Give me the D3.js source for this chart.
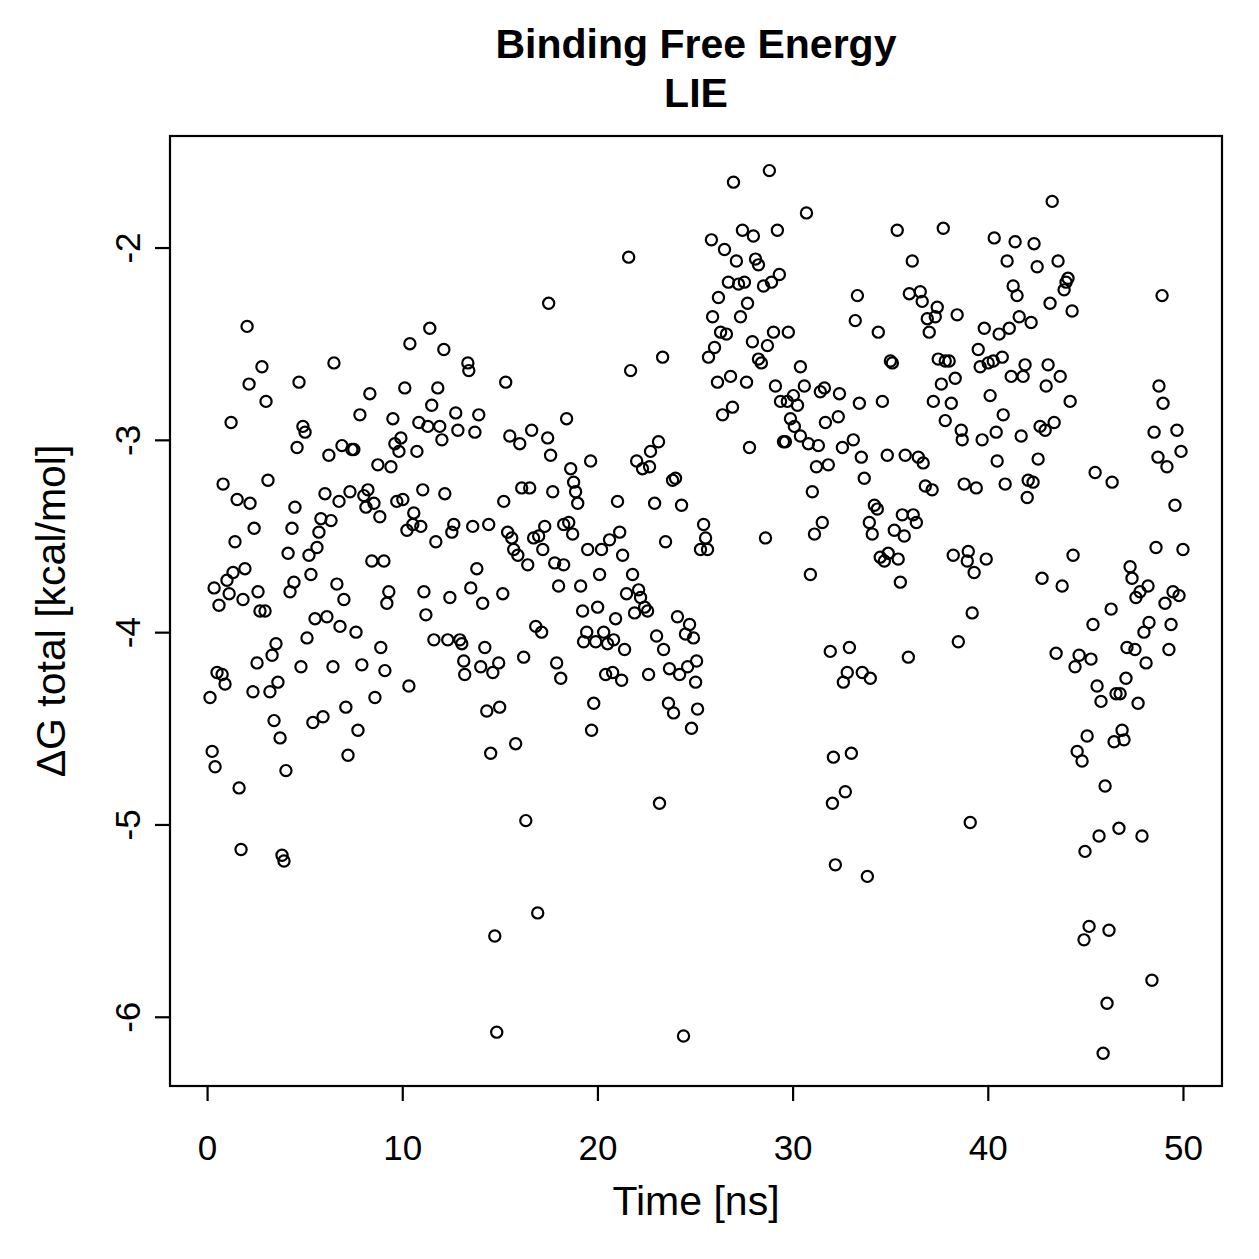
<!DOCTYPE html>
<html>
<head>
<meta charset="utf-8">
<script src="https://cdn.jsdelivr.net/npm/d3@7"></script>
<style>
  body { margin: 0; background: #fff; }
  svg text { font-family: 'Liberation Sans', Arial, Helvetica, sans-serif; fill: #000; }
</style>
</head>
<body>
<svg id="chart" width="1259" height="1259"></svg>
<script>
'use strict';

var mainTitle = ['Binding Free Energy', 'LIE'];
var xLabel = 'Time [ns]';
var yLabel = '\u0394G total [kcal/mol]';
var xTicks = [0, 10, 20, 30, 40, 50];
var yTicks = [-2, -3, -4, -5, -6];
var xLimits = [-1.9, 52.0];
var yLimits = [-6.36, -1.42];

// [time ns, dG kcal/mol]
var pts0to12 = [
  [2.05,-2.41],[11.41,-2.42],[10.39,-2.50],[12.13,-2.53],[2.81,-2.62],[6.50,-2.60],[2.15,-2.71],[4.71,-2.70],[3.02,-2.80],[8.34,-2.76],
  [10.13,-2.73],[11.82,-2.73],[11.51,-2.82],[7.83,-2.87],[9.52,-2.89],[10.85,-2.91],[11.31,-2.93],[11.92,-2.93],[12.03,-3.00],[12.74,-2.86],
  [1.23,-2.91],[4.91,-2.93],[5.02,-2.96],[4.61,-3.04],[6.91,-3.03],[7.42,-3.05],[7.52,-3.05],[9.62,-3.02],[9.93,-2.99],[9.83,-3.06],
  [10.75,-3.06],[6.24,-3.08],[8.75,-3.13],[9.42,-3.14],[0.82,-3.23],[3.12,-3.21],[1.54,-3.31],[2.20,-3.33],[4.50,-3.35],[6.04,-3.28],
  [6.76,-3.32],[7.32,-3.27],[8.24,-3.26],[8.03,-3.29],[8.55,-3.33],[8.14,-3.35],[8.85,-3.40],[9.72,-3.32],[10.03,-3.31],[11.05,-3.26],
  [12.18,-3.28],[10.59,-3.38],[10.54,-3.44],[10.95,-3.45],[10.24,-3.47],[11.72,-3.53],[5.83,-3.41],[6.35,-3.42],[5.73,-3.48],[4.35,-3.46],
  [2.41,-3.46],[1.43,-3.53],[5.63,-3.56],[4.15,-3.59],[5.22,-3.60],[8.44,-3.63],[9.06,-3.63],[1.94,-3.67],[1.33,-3.69],[1.02,-3.73],
  [5.32,-3.70],[0.36,-3.77],[1.13,-3.80],[1.84,-3.83],[0.61,-3.86],[2.61,-3.79],[4.45,-3.74],[4.25,-3.79],[6.65,-3.75],[7.01,-3.83],
  [9.31,-3.79],[9.21,-3.85],[11.11,-3.79],[11.21,-3.91],[2.71,-3.89],[2.97,-3.89],[5.53,-3.93],[6.14,-3.92],[6.81,-3.97],[7.63,-4.00],
  [5.12,-4.03],[3.53,-4.06],[3.33,-4.12],[2.56,-4.16],[8.90,-4.08],[11.62,-4.04],[4.81,-4.18],[6.45,-4.18],[7.93,-4.17],[9.11,-4.20],
  [0.51,-4.21],[0.77,-4.22],[0.92,-4.27],[3.63,-4.26],[3.22,-4.31],[2.35,-4.31],[0.15,-4.34],[10.34,-4.28],[8.60,-4.34],[7.11,-4.39],
  [3.43,-4.46],[5.42,-4.47],[5.94,-4.44],[7.73,-4.51],[3.74,-4.55],[0.26,-4.62],[7.22,-4.64],[0.41,-4.70],[4.04,-4.72],[1.64,-4.81],
  [1.74,-5.13],[3.84,-5.16],[3.94,-5.19]
];

var pts12to25 = [
  [21.60,-2.05],[17.50,-2.29],[23.34,-2.57],[21.70,-2.64],[13.36,-2.60],[13.41,-2.64],[15.30,-2.70],[13.92,-2.87],[12.85,-2.95],[13.72,-2.96],
  [15.51,-2.98],[16.02,-3.02],[16.63,-2.95],[17.45,-2.99],[18.42,-2.89],[17.60,-3.08],[19.65,-3.11],[22.01,-3.11],[22.72,-3.06],[23.13,-3.01],
  [22.31,-3.15],[22.67,-3.14],[23.85,-3.21],[24.00,-3.20],[18.63,-3.15],[18.78,-3.22],[18.88,-3.27],[18.99,-3.33],[15.20,-3.32],[16.12,-3.25],
  [16.53,-3.25],[17.71,-3.27],[21.03,-3.32],[22.93,-3.33],[24.31,-3.34],[12.64,-3.44],[12.54,-3.48],[13.61,-3.45],[14.43,-3.44],[15.40,-3.48],
  [15.61,-3.51],[15.71,-3.57],[15.92,-3.60],[16.43,-3.65],[16.73,-3.51],[16.99,-3.50],[17.30,-3.45],[17.20,-3.57],[18.27,-3.44],[18.53,-3.43],
  [18.73,-3.49],[17.81,-3.64],[18.27,-3.65],[19.50,-3.57],[20.21,-3.57],[20.62,-3.52],[21.14,-3.48],[21.29,-3.60],[21.80,-3.70],[20.11,-3.70],
  [23.49,-3.53],[13.82,-3.67],[12.44,-3.82],[13.51,-3.77],[14.12,-3.85],[15.15,-3.80],[18.01,-3.76],[19.14,-3.76],[19.24,-3.89],[20.01,-3.87],
  [20.93,-3.93],[21.49,-3.80],[22.11,-3.78],[22.21,-3.82],[22.42,-3.87],[22.57,-3.89],[21.90,-3.90],[24.10,-3.92],[24.72,-3.96],[24.51,-4.01],
  [24.92,-4.03],[23.03,-4.02],[23.39,-4.09],[16.84,-3.97],[17.14,-4.00],[12.33,-4.04],[12.95,-4.04],[13.05,-4.06],[14.23,-4.08],[13.15,-4.15],
  [13.20,-4.22],[14.02,-4.18],[14.94,-4.16],[14.64,-4.21],[16.22,-4.13],[17.91,-4.16],[18.12,-4.24],[19.45,-4.00],[19.29,-4.05],[19.91,-4.05],
  [20.32,-4.00],[20.52,-4.06],[20.83,-4.04],[21.39,-4.09],[20.42,-4.22],[20.78,-4.21],[21.24,-4.25],[22.62,-4.22],[23.69,-4.19],[24.21,-4.22],
  [24.62,-4.18],[25.08,-4.15],[25.03,-4.26],[14.33,-4.41],[14.99,-4.39],[19.81,-4.37],[23.64,-4.37],[23.90,-4.42],[25.13,-4.40],[24.82,-4.50],
  [19.70,-4.51],[15.81,-4.58],[14.53,-4.63],[23.18,-4.89],[16.33,-4.98],[16.94,-5.46],[14.74,-5.58],[14.84,-6.08],[24.41,-6.10]
];

var pts25to38 = [
  [26.97,-1.66],[28.81,-1.60],[30.71,-1.82],[27.43,-1.91],[27.99,-1.94],[29.22,-1.91],[25.84,-1.96],[26.51,-2.01],[27.12,-2.07],[28.10,-2.06],
  [28.25,-2.09],[26.71,-2.18],[27.23,-2.19],[27.53,-2.18],[28.51,-2.20],[28.92,-2.18],[29.32,-2.14],[26.20,-2.26],[27.69,-2.29],[25.90,-2.36],
  [27.33,-2.36],[26.31,-2.44],[26.61,-2.45],[27.94,-2.49],[28.71,-2.51],[29.02,-2.44],[29.78,-2.44],[26.00,-2.52],[25.69,-2.57],[28.25,-2.58],
  [28.40,-2.60],[30.40,-2.62],[26.82,-2.67],[26.15,-2.70],[27.64,-2.70],[29.12,-2.72],[30.60,-2.72],[31.42,-2.75],[31.63,-2.73],[29.38,-2.80],
  [29.73,-2.80],[30.04,-2.77],[30.25,-2.82],[32.40,-2.76],[33.42,-2.81],[34.60,-2.80],[26.92,-2.83],[29.89,-2.89],[30.09,-2.93],[32.34,-2.88],
  [31.68,-2.91],[26.41,-2.87],[27.79,-3.04],[29.53,-3.01],[29.63,-3.01],[30.40,-2.98],[30.81,-3.02],[31.32,-3.03],[32.55,-3.04],[33.11,-3.00],
  [33.52,-3.09],[34.85,-3.08],[35.77,-3.08],[36.44,-3.09],[35.36,-1.91],[37.72,-1.90],[36.13,-2.07],[33.32,-2.25],[33.21,-2.38],[34.39,-2.44],
  [35.98,-2.24],[36.54,-2.23],[36.64,-2.28],[37.41,-2.31],[37.31,-2.36],[36.90,-2.37],[37.00,-2.44],[35.01,-2.59],[35.11,-2.60],[37.46,-2.58],
  [37.82,-2.59],[38.02,-2.59],[37.62,-2.71],[37.21,-2.80],[37.82,-2.90],[36.69,-3.12],[31.22,-3.14],[31.83,-3.13],[33.67,-3.20],[31.01,-3.27],
  [36.80,-3.24],[37.15,-3.26],[34.19,-3.34],[34.34,-3.36],[33.93,-3.43],[34.08,-3.49],[35.62,-3.39],[36.18,-3.39],[36.34,-3.43],[35.21,-3.47],
  [35.72,-3.50],[31.52,-3.43],[31.12,-3.49],[34.49,-3.61],[34.90,-3.59],[34.70,-3.63],[35.41,-3.62],[35.52,-3.74],[30.91,-3.70],[25.44,-3.44],
  [25.54,-3.51],[25.28,-3.57],[25.64,-3.57],[28.61,-3.51],[31.93,-4.10],[32.91,-4.08],[35.93,-4.13],[32.80,-4.21],[32.60,-4.26],[33.57,-4.21],
  [33.98,-4.24],[32.09,-4.65],[33.01,-4.63],[32.70,-4.83],[32.04,-4.89],[32.19,-5.21],[33.83,-5.27]
];

var pts38to50 = [
  [43.30,-1.76],[40.33,-1.95],[41.40,-1.97],[42.37,-1.98],[40.99,-2.07],[42.53,-2.10],[43.60,-2.07],[44.11,-2.16],[44.01,-2.18],[43.91,-2.22],
  [41.30,-2.20],[41.50,-2.25],[43.19,-2.29],[44.32,-2.33],[48.93,-2.25],[38.43,-2.35],[39.82,-2.42],[40.58,-2.45],[41.10,-2.42],[41.61,-2.36],
  [42.22,-2.39],[39.51,-2.53],[39.61,-2.62],[40.02,-2.60],[40.28,-2.59],[40.74,-2.57],[41.91,-2.61],[41.81,-2.67],[41.20,-2.67],[43.09,-2.61],
  [43.71,-2.67],[42.99,-2.72],[38.33,-2.68],[40.12,-2.77],[38.13,-2.81],[44.22,-2.80],[40.79,-2.87],[38.64,-2.95],[38.69,-3.00],[39.71,-3.00],
  [40.43,-2.96],[41.71,-2.98],[42.68,-2.93],[42.94,-2.95],[43.40,-2.91],[48.77,-2.72],[48.98,-2.81],[48.52,-2.96],[49.69,-2.95],[40.48,-3.11],
  [42.58,-3.10],[38.79,-3.23],[39.41,-3.25],[40.89,-3.23],[42.07,-3.21],[42.32,-3.22],[42.02,-3.30],[45.50,-3.17],[46.37,-3.22],[48.72,-3.09],
  [49.18,-3.14],[49.90,-3.06],[49.59,-3.34],[38.23,-3.60],[39.00,-3.58],[38.95,-3.63],[39.92,-3.62],[39.30,-3.69],[44.37,-3.60],[39.20,-3.90],
  [38.49,-4.05],[42.78,-3.72],[43.81,-3.76],[48.62,-3.56],[50.00,-3.57],[47.29,-3.66],[47.39,-3.72],[48.21,-3.76],[47.80,-3.79],[47.59,-3.82],
  [49.49,-3.79],[49.80,-3.81],[49.08,-3.85],[46.32,-3.88],[45.39,-3.96],[48.26,-3.95],[48.00,-4.00],[49.39,-3.96],[47.13,-4.08],[47.54,-4.09],
  [49.28,-4.09],[48.11,-4.16],[43.50,-4.11],[44.68,-4.12],[45.29,-4.14],[44.47,-4.18],[47.08,-4.24],[45.60,-4.28],[46.57,-4.32],[46.78,-4.32],
  [45.80,-4.36],[47.70,-4.37],[45.09,-4.54],[46.88,-4.51],[46.47,-4.57],[46.98,-4.56],[44.58,-4.62],[44.83,-4.67],[46.01,-4.80],[39.10,-4.99],
  [46.72,-5.02],[47.90,-5.06],[45.70,-5.06],[44.98,-5.14],[45.19,-5.53],[46.21,-5.55],[44.93,-5.60],[48.41,-5.81],[46.11,-5.93],[45.91,-6.19]
];

var allPoints = pts0to12.concat(pts12to25, pts25to38, pts38to50);

var svg = d3.select('#chart');
var margin = {top: 136, right: 37, bottom: 173, left: 170};
var width = +svg.attr('width') - margin.left - margin.right;
var height = +svg.attr('height') - margin.top - margin.bottom;

svg.append('rect')
  .attr('width', 1259).attr('height', 1259)
  .attr('fill', '#fff');

var g = svg.append('g')
  .attr('transform', 'translate(' + margin.left + ',' + margin.top + ')');

var x = d3.scaleLinear().domain(xLimits).range([0, width]);
var y = d3.scaleLinear().domain(yLimits).range([height, 0]);

var lineW = 2.2;

// x axis
var xAxis = g.append('g')
  .attr('transform', 'translate(0,' + height + ')')
  .call(d3.axisBottom(x).tickValues(xTicks).tickSize(15).tickPadding(34).tickFormat(d3.format('d')));

// y axis, labels parallel to the axis like R's default las=0
var yAxis = g.append('g')
  .call(d3.axisLeft(y).tickValues(yTicks).tickSize(15).tickFormat(function(d){ return '-' + Math.abs(d); }));

yAxis.selectAll('.tick text')
  .attr('x', null).attr('dy', null)
  .attr('transform', 'translate(-30,0) rotate(-90)')
  .style('text-anchor', 'middle');

[xAxis, yAxis].forEach(function(ax){
  ax.select('.domain').remove();
  ax.selectAll('.tick line').attr('stroke', '#000').attr('stroke-width', lineW);
  ax.selectAll('.tick text')
    .attr('font-family', null)
    .style('font-size', '35px')
    .attr('fill', '#000');
});

// points
g.append('g')
  .selectAll('circle')
  .data(allPoints)
  .enter()
  .append('circle')
  .attr('cx', function(d){ return x(d[0]); })
  .attr('cy', function(d){ return y(d[1]); })
  .attr('r', 5.6)
  .attr('fill', 'none')
  .attr('stroke', '#000')
  .attr('stroke-width', lineW);

// box
g.append('rect')
  .attr('width', width)
  .attr('height', height)
  .attr('fill', 'none')
  .attr('stroke', '#000')
  .attr('stroke-width', lineW);

// titles
svg.append('text')
  .attr('x', margin.left + width / 2)
  .attr('y', 58)
  .attr('text-anchor', 'middle')
  .style('font-size', '41px')
  .style('font-weight', 'bold')
  .text(mainTitle[0]);

svg.append('text')
  .attr('x', margin.left + width / 2)
  .attr('y', 107)
  .attr('text-anchor', 'middle')
  .style('font-size', '41px')
  .style('font-weight', 'bold')
  .text(mainTitle[1]);

svg.append('text')
  .attr('x', margin.left + width / 2)
  .attr('y', 1215)
  .attr('text-anchor', 'middle')
  .style('font-size', '41px')
  .text(xLabel);

svg.append('text')
  .attr('transform', 'translate(65,' + (margin.top + height / 2) + ') rotate(-90)')
  .attr('text-anchor', 'middle')
  .style('font-size', '41px')
  .text(yLabel);
</script>
</body>
</html>
